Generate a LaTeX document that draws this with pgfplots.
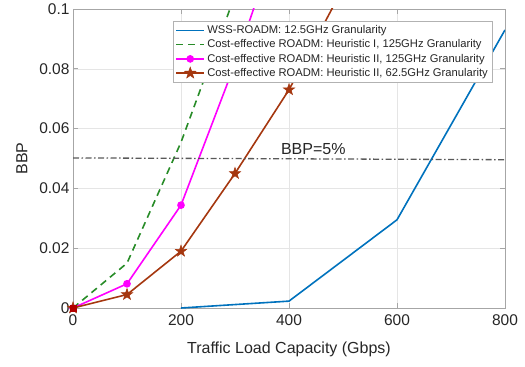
\documentclass[border=0pt]{standalone}
\usepackage{fontspec}
\setmainfont{Liberation Sans}
\usepackage{pgfplots}
\pgfplotsset{compat=1.18}
\usetikzlibrary{calc}
\definecolor{mblue}{rgb}{0,0.447,0.741}
\definecolor{mgreen}{RGB}{40,140,40}
\definecolor{mmag}{RGB}{255,0,255}
\definecolor{mbrown}{RGB}{165,55,15}
\definecolor{txt}{gray}{0.15}
\pgfdeclareplotmark{fstar}{%
  \pgfpathmoveto{\pgfqpointpolar{90}{\pgfplotmarksize}}%
  \pgfpathlineto{\pgfqpointpolar{126}{0.4\pgfplotmarksize}}%
  \pgfpathlineto{\pgfqpointpolar{162}{\pgfplotmarksize}}%
  \pgfpathlineto{\pgfqpointpolar{198}{0.4\pgfplotmarksize}}%
  \pgfpathlineto{\pgfqpointpolar{234}{\pgfplotmarksize}}%
  \pgfpathlineto{\pgfqpointpolar{270}{0.4\pgfplotmarksize}}%
  \pgfpathlineto{\pgfqpointpolar{306}{\pgfplotmarksize}}%
  \pgfpathlineto{\pgfqpointpolar{342}{0.4\pgfplotmarksize}}%
  \pgfpathlineto{\pgfqpointpolar{18}{\pgfplotmarksize}}%
  \pgfpathlineto{\pgfqpointpolar{54}{0.4\pgfplotmarksize}}%
  \pgfpathclose
  \pgfusepathqfillstroke}
\begin{document}
\begin{tikzpicture}
\begin{axis}[name=ax,
  scale only axis, width=432pt, height=299pt,
  xmin=0, xmax=800, ymin=0, ymax=0.1,
  xtick={0,200,400,600,800},
  ytick={0,0.02,0.04,0.06,0.08,0.1},
  yticklabels={0,0.02,0.04,0.06,0.08,0.1},
  /pgf/number format/assume math mode=true,
  tick label style={font=\fontsize{15.5}{17}\selectfont, text=txt},
  xticklabel style={yshift=-3pt},
  label style={font=\fontsize{16}{18}\selectfont, text=txt},
  xlabel={Traffic Load Capacity (Gbps)},
  ylabel={BBP},
  xlabel style={yshift=-10pt},
  ylabel style={yshift=5pt},
  grid=major, major grid style={gray!20, line width=0.5pt},
  axis line style={gray!70, line width=0.6pt},
  tick style={gray!70, line width=0.6pt},
  tick align=inside, major tick length=5pt,
  legend style={at={(0.971,0.96)}, anchor=north east,
    font=\fontsize{11.2}{13}\selectfont, draw=gray!60, fill=white,
    row sep=0.6pt, inner sep=2.5pt, text=txt},
  legend cell align=left,
  legend image code/.code={\draw[#1, line width=1.6pt, sharp plot] (0cm,0cm) -- (1.0cm,0cm);
    \draw[#1, only marks] plot coordinates {(0.5cm,0cm)};},
]
\addplot[mblue, line width=1.6pt] coordinates {(200,0) (400,0.0023) (600,0.0295) (800,0.093)};
\addlegendentry{WSS-ROADM: 12.5GHz Granularity}
\addplot[mgreen, line width=1.6pt, dash pattern=on 7pt off 5pt] coordinates {(0,0) (100,0.015) (200,0.0554) (300,0.1046)};
\addlegendentry{Cost-effective ROADM: Heuristic I, 125GHz Granularity}
\addplot[mmag, line width=1.6pt, mark=*, mark size=3pt, mark options={solid, fill=mmag}] coordinates {(0,0) (100,0.0081) (200,0.0344) (300,0.0817) (400,0.135)};
\addlegendentry{Cost-effective ROADM: Heuristic II, 125GHz Granularity}
\addplot[mbrown, line width=1.6pt, mark=fstar, mark size=6pt, mark options={solid, fill=mbrown, line width=0.5pt}] coordinates {(0,0) (100,0.0045) (200,0.019) (300,0.045) (400,0.073) (500,0.107)};
\addlegendentry{Cost-effective ROADM: Heuristic II, 62.5GHz Granularity}
\addplot[gray!70!black, line width=1.3pt, dash pattern=on 6pt off 2.5pt on 1.5pt off 2.5pt, forget plot] coordinates {(0,0.0502) (800,0.0496)};
\addplot[only marks, mark=square*, mark size=3pt, color=red!70!black, forget plot] coordinates {(0,0)};
\node[font=\fontsize{16}{18}\selectfont, text=txt] at (axis cs:445,0.0532) {BBP=5\%};
\end{axis}
\pgfresetboundingbox
\path ($(ax.south west)+(-73pt,-58pt)$) rectangle ($(ax.north east)+(20pt,9pt)$);
\end{tikzpicture}
\end{document}
